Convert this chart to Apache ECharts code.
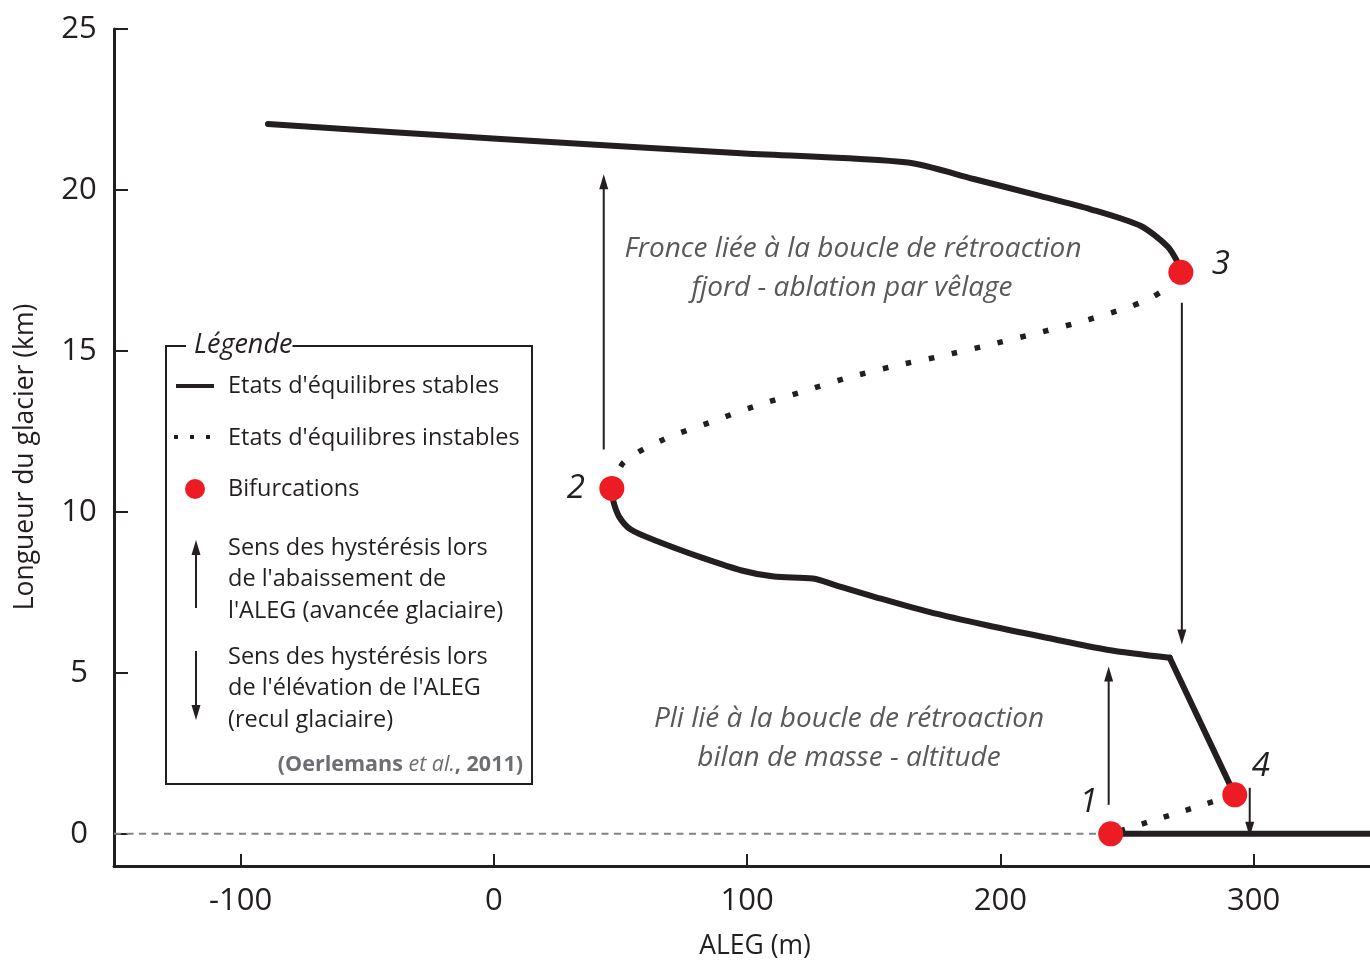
<!DOCTYPE html>
<html>
<head>
<meta charset="utf-8">
<script src="https://cdn.jsdelivr.net/npm/echarts@6/dist/echarts.min.js"></script>
<style>
html,body{margin:0;padding:0;background:#fff;}
#chart{width:1370px;height:960px;}
</style>
</head>
<body>
<div id="chart"></div>
<script>
// ---- data (ALEG in m, glacier length in km) ----
const xTicks = [-100, 0, 100, 200, 300];
const yTicks = [0, 5, 10, 15, 20, 25];
const stableUpper = [[-89.2,22.05],[2.8,21.58],[97.5,21.14],[163.5,20.85],[189.5,20.34],[216.0,19.81],[235.7,19.40],[255.5,18.88],[266.1,18.24],[270.1,17.74],[271.3,17.44]];
const stableLower = [[46.6,10.73],[47.0,10.39],[49.4,9.86],[54.1,9.45],[64.8,9.08],[82.1,8.58],[97.9,8.18],[110.6,7.99],[126.0,7.93],[135.4,7.71],[151.2,7.34],[171.4,6.90],[195.1,6.47],[218.4,6.09],[242.1,5.72],[266.9,5.47]];
const stableDrop = [[266.9,5.47],[292.6,1.21]];
const stableBottom = [[243.6,0],[350,0]];
const unstableUpper = [[46.6,10.73],[51.3,11.54],[67.1,12.25],[85.3,12.78],[103.1,13.28],[120.8,13.71],[139.0,14.15],[157.6,14.52],[176.1,14.83],[194.7,15.17],[212.8,15.52],[231.0,15.89],[249.2,16.32],[258.2,16.60],[266.1,16.98],[271.3,17.44]];
const unstableLower = [[292.6,1.21],[243.6,0]];
const zeroLine = [[-150,0],[243.6,0]];
const bifurcations = [[243.6,0],[46.6,10.73],[271.3,17.44],[292.6,1.21]];
const bifLabels = ['1','2','3','4'];
// arrows: [x, from y, to y]
const hysteresisArrows = [[43.4,11.94,20.49],[271.7,16.5,5.88],[242.8,0.9,5.2],[298.5,1.43,-0.09]];

const annotations = [
  ['Fronce liée à la boucle de rétroaction', 'fjord - ablation par vêlage'],
  ['Pli lié à la boucle de rétroaction', 'bilan de masse - altitude']
];
const legendTexts = {
  title: 'Légende',
  stable: "Etats d'équilibres stables",
  unstable: "Etats d'équilibres instables",
  bif: 'Bifurcations',
  up: ['Sens des hystérésis lors', "de l'abaissement de", "l'ALEG (avancée glaciaire)"],
  down: ['Sens des hystérésis lors', "de l'élévation de l'ALEG", '(recul glaciaire)']
};

// ---- styles ----
const INK = '#231f20';
const RED = '#ed1c24';
const GREY = '#58595b';
const FONT = '"Open Sans", "Noto Sans", sans-serif';

const chart = echarts.init(document.getElementById('chart'));

const labelOffsets = [[-22,-31],[-36,0],[40,-8],[26,-28]];

function lineSeries(data, opts) {
  return Object.assign({
    type: 'line', data: data, showSymbol: false, symbol: 'none', silent: true,
    lineStyle: { color: INK, width: 6, cap: 'round', join: 'round' }, z: 3
  }, opts || {});
}

const legendX = 166, legendY = 346;
const LFONT = '400 23.5px ' + FONT;
const graphics = [
  // axis names
  { type: 'text', x: 25, y: 457, rotation: Math.PI / 2,
    style: { text: 'Longueur du glacier (km)', font: '400 26.5px ' + FONT, fill: INK, align: 'center', verticalAlign: 'middle' } },
  { type: 'text', x: 755, y: 946,
    style: { text: 'ALEG (m)', font: '400 26.5px ' + FONT, fill: INK, align: 'center', verticalAlign: 'middle' } },
  // annotations
  { type: 'text', x: 853, y: 249, style: { text: annotations[0][0], font: 'italic 400 28px ' + FONT, fill: GREY, align: 'center', verticalAlign: 'middle' } },
  { type: 'text', x: 852, y: 288, style: { text: annotations[0][1], font: 'italic 400 28px ' + FONT, fill: GREY, align: 'center', verticalAlign: 'middle' } },
  { type: 'text', x: 849, y: 719, style: { text: annotations[1][0], font: 'italic 400 28px ' + FONT, fill: GREY, align: 'center', verticalAlign: 'middle' } },
  { type: 'text', x: 849, y: 758, style: { text: annotations[1][1], font: 'italic 400 28px ' + FONT, fill: GREY, align: 'center', verticalAlign: 'middle' } },
  // legend box
  { type: 'rect', shape: { x: legendX, y: legendY, width: 366, height: 438 }, style: { fill: '#fff', stroke: INK, lineWidth: 2 }, z: 10 },
  { type: 'text', x: 186, y: 345, z: 11,
    style: { text: legendTexts.title, font: 'italic 400 27px ' + FONT, fill: INK, align: 'left', verticalAlign: 'middle', backgroundColor: '#fff', padding: [0, 0, 0, 8] } },
  { type: 'line', shape: { x1: 176, y1: 386, x2: 214, y2: 386 }, style: { stroke: INK, lineWidth: 4 }, z: 11 },
  { type: 'rect', shape: { x: 174, y: 435, width: 4, height: 4 }, style: { fill: INK }, z: 11 },
  { type: 'rect', shape: { x: 190, y: 435, width: 4, height: 4 }, style: { fill: INK }, z: 11 },
  { type: 'rect', shape: { x: 206, y: 435, width: 4, height: 4 }, style: { fill: INK }, z: 11 },
  { type: 'circle', shape: { cx: 195, cy: 489, r: 10 }, style: { fill: RED }, z: 11 },
  // legend arrows
  { type: 'line', shape: { x1: 196, y1: 608, x2: 196, y2: 552 }, style: { stroke: INK, lineWidth: 2 }, z: 11 },
  { type: 'polygon', shape: { points: [[196, 540], [191.5, 555], [200.5, 555]] }, style: { fill: INK }, z: 11 },
  { type: 'line', shape: { x1: 196, y1: 651, x2: 196, y2: 708 }, style: { stroke: INK, lineWidth: 2 }, z: 11 },
  { type: 'polygon', shape: { points: [[196, 720], [191.5, 705], [200.5, 705]] }, style: { fill: INK }, z: 11 },
  { type: 'text', x: 228, y: 386, z: 11, style: { text: legendTexts.stable, font: LFONT, fill: INK, align: 'left', verticalAlign: 'middle' } },
  { type: 'text', x: 228, y: 438, z: 11, style: { text: legendTexts.unstable, font: LFONT, fill: INK, align: 'left', verticalAlign: 'middle' } },
  { type: 'text', x: 228, y: 489, z: 11, style: { text: legendTexts.bif, font: LFONT, fill: INK, align: 'left', verticalAlign: 'middle' } }
];
legendTexts.up.forEach((t, i) => graphics.push({ type: 'text', x: 228, y: 548 + i * 31.5, z: 11,
  style: { text: t, font: LFONT, fill: INK, align: 'left', verticalAlign: 'middle' } }));
legendTexts.down.forEach((t, i) => graphics.push({ type: 'text', x: 228, y: 657 + i * 31.5, z: 11,
  style: { text: t, font: LFONT, fill: INK, align: 'left', verticalAlign: 'middle' } }));
graphics.push({ type: 'text', x: 523, y: 765, z: 11,
  style: { text: '{b|(Oerlemans }{i|et al.}{b|, 2011)}', align: 'right', verticalAlign: 'middle',
    rich: {
      b: { font: '700 21.5px ' + FONT, fill: '#6d6e71' },
      i: { font: 'italic 400 21.5px ' + FONT, fill: '#6d6e71' }
    } } });

const option = {
  backgroundColor: '#fff',
  animation: false,
  grid: { left: 114, right: 0, top: 29, bottom: 94, containLabel: false },
  xAxis: {
    type: 'value', min: -150, max: 346,
    axisLine: { show: true, onZero: false, lineStyle: { color: INK, width: 3 } },
    axisTick: { show: true, inside: true, length: 12, customValues: xTicks, lineStyle: { color: INK, width: 2 } },
    axisLabel: { show: true, customValues: xTicks, margin: 20, fontSize: 31, fontFamily: FONT, color: INK },
    splitLine: { show: false }
  },
  yAxis: {
    type: 'value', min: -1, max: 25,
    axisLine: { show: true, onZero: false, lineStyle: { color: INK, width: 3 } },
    axisTick: { show: true, inside: true, length: 14, customValues: yTicks, lineStyle: { color: INK, width: 2 } },
    axisLabel: { show: true, customValues: yTicks, margin: 35, align: 'center', padding: [10, 0, 0, 0], fontSize: 31, fontFamily: FONT, color: INK },
    splitLine: { show: false }
  },
  series: [
    lineSeries(zeroLine, { lineStyle: { color: '#808285', width: 2, type: [7, 5.5], cap: 'butt' }, z: 1 }),
    lineSeries(stableUpper, { smooth: 0.25 }),
    lineSeries(stableLower, { smooth: 0.3 }),
    lineSeries(stableDrop),
    lineSeries(stableBottom),
    lineSeries(unstableUpper, { smooth: 0.3, lineStyle: { color: INK, width: 5.5, type: [5.5, 18], cap: 'butt' } }),
    lineSeries(unstableLower, { lineStyle: { color: INK, width: 5.5, type: [5.5, 17.5], cap: 'butt' } }),
    {
      type: 'custom', silent: true, z: 4,
      data: hysteresisArrows,
      encode: { x: 0, y: [1, 2] },
      renderItem: function (params, api) {
        const x = api.value(0), y1 = api.value(1), y2 = api.value(2);
        const p1 = api.coord([x, y1]), p2 = api.coord([x, y2]);
        const dir = p2[1] > p1[1] ? 1 : -1;
        const headLen = 15, headW = 4.5;
        return {
          type: 'group',
          children: [
            { type: 'line', shape: { x1: p1[0], y1: p1[1], x2: p2[0], y2: p2[1] - dir * headLen * 0.8 },
              style: { stroke: INK, lineWidth: 2 } },
            { type: 'polygon', shape: { points: [[p2[0], p2[1]], [p2[0] - headW, p2[1] - dir * headLen], [p2[0] + headW, p2[1] - dir * headLen]] },
              style: { fill: INK } }
          ]
        };
      }
    },
    {
      type: 'scatter', silent: true, z: 6,
      symbol: 'circle', symbolSize: 25,
      itemStyle: { color: RED, opacity: 1 },
      data: bifurcations.map((p, i) => ({
        value: p,
        label: { show: true, formatter: bifLabels[i], position: 'inside', offset: labelOffsets[i],
          fontSize: 33, fontStyle: 'italic', fontFamily: FONT, color: INK, opacity: 1 }
      }))
    }
  ],
  graphic: graphics
};
chart.setOption(option);
</script>
</body>
</html>
